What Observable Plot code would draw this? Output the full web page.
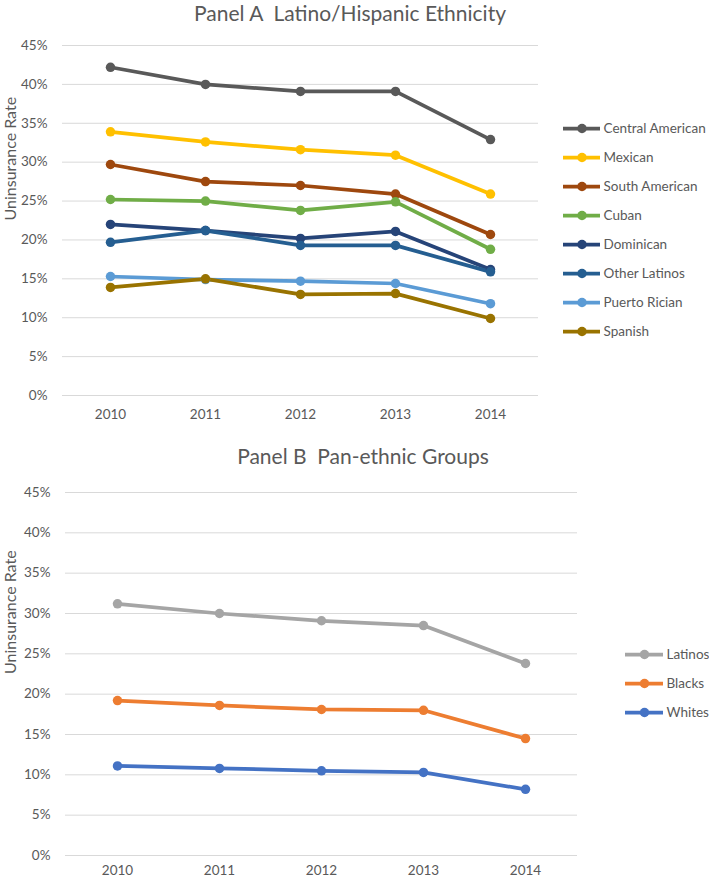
<!DOCTYPE html>
<html>
<head>
<meta charset="utf-8">
<script src="https://cdn.jsdelivr.net/npm/d3@7"></script>
<script src="https://cdn.jsdelivr.net/npm/@observablehq/plot@0.6"></script>
<style>
  html, body { margin: 0; padding: 0; background: #fff; }
  #root { position: relative; width: 709px; height: 880px; overflow: hidden; font-family: Lato, "Open Sans", sans-serif; color: #595959; }
  .title { position: absolute; width: 700px; text-align: center; font-size: 21px; line-height: 26px; white-space: pre; }
  .abs { position: absolute; }
  .abs svg { overflow: visible; }
</style>
</head>
<body>
<div id="root">
  <div class="title" id="titleA" style="left:0px; top:0px;">Panel A  Latino/Hispanic Ethnicity</div>
  <div class="title" id="titleB" style="left:13px; top:443px;">Panel B  Pan-ethnic Groups</div>
  <div class="abs" id="plotA" style="left:0px; top:0px;"></div>
  <div class="abs" id="legendA" style="left:555px; top:110px;"></div>
  <div class="abs" id="plotB" style="left:0px; top:440px;"></div>
  <div class="abs" id="legendB" style="left:617px; top:635px;"></div>
</div>
<script>
// ---- data ----
const years = ["2010", "2011", "2012", "2013", "2014"];
const yTicks = [0, 5, 10, 15, 20, 25, 30, 35, 40, 45];
const yLabel = "Uninsurance Rate";

const groupsA = ["Central American", "Mexican", "South American", "Cuban", "Dominican", "Other Latinos", "Puerto Rician", "Spanish"];
const colorsA = ["#595959", "#FFC000", "#9E480E", "#70AD47", "#264478", "#255E91", "#5B9BD5", "#997300"];
const centralAmerican = [42.2, 40.0, 39.1, 39.1, 32.9];
const mexican        = [33.9, 32.6, 31.6, 30.9, 25.9];
const southAmerican  = [29.7, 27.5, 27.0, 25.9, 20.7];
const cuban          = [25.2, 25.0, 23.8, 24.9, 18.8];
const dominican      = [22.0, 21.2, 20.2, 21.1, 16.2];
const otherLatinos   = [19.7, 21.2, 19.3, 19.3, 15.9];
const puertoRician   = [15.3, 14.9, 14.7, 14.4, 11.8];
const spanish        = [13.9, 15.0, 13.0, 13.1, 9.9];

const groupsB = ["Latinos", "Blacks", "Whites"];
const colorsB = ["#A5A5A5", "#ED7D31", "#4472C4"];
const latinos = [31.2, 30.0, 29.1, 28.5, 23.8];
const blacks  = [19.2, 18.6, 18.1, 18.0, 14.5];
const whites  = [11.1, 10.8, 10.5, 10.3, 8.2];

// ---- build tables ----
function toRows(groups, series) {
  const rows = [];
  groups.forEach((g, i) => series[i].forEach((v, j) => rows.push({group: g, year: years[j], value: v})));
  return rows;
}
const rowsA = toRows(groupsA, [centralAmerican, mexican, southAmerican, cuban, dominican, otherLatinos, puertoRician, spanish]);
const rowsB = toRows(groupsB, [latinos, blacks, whites]);

const baseStyle = {fontFamily: "Lato, 'Open Sans', sans-serif", fontSize: "13px", color: "#595959", background: "transparent", overflow: "visible"};

function panel(rows, groups, colors, opts) {
  return Plot.plot({
    width: opts.width, height: opts.height,
    marginTop: opts.mt, marginBottom: opts.mb, marginLeft: opts.ml, marginRight: opts.mr,
    style: baseStyle,
    x: {type: "point", domain: years, padding: 0.5},
    y: {domain: [0, 45]},
    color: {domain: groups, range: colors},
    marks: [
      Plot.gridY(yTicks, {stroke: "#d9d9d9", strokeOpacity: 1, strokeWidth: 1}),
      Plot.axisY(yTicks, {tickSize: 0, tickPadding: 15, tickFormat: d => d + "%", label: null, fontSize: 13.5}),
      Plot.axisX({tickSize: 0, tickPadding: opts.xPad, label: null, fontSize: 13.5}),
      Plot.text([yLabel], {text: d => d, frameAnchor: "left", rotate: -90, dx: opts.labelDx, fontSize: 16, fill: "#595959"}),
      Plot.line(rows, {x: "year", y: "value", z: "group", stroke: "group", strokeWidth: 3.75, strokeLinejoin: "round"}),
      Plot.dot(rows, {x: "year", y: "value", fill: "group", r: 4.75})
    ]
  });
}

function legend(groups, colors, opts) {
  return Plot.plot({
    width: opts.width, height: opts.height,
    marginTop: opts.mt, marginBottom: opts.mb, marginLeft: opts.ml, marginRight: opts.mr,
    style: baseStyle,
    x: {domain: [0, 1], axis: null},
    y: {type: "point", domain: groups, axis: null, padding: 0},
    color: {domain: groups, range: colors},
    marks: [
      Plot.ruleY(groups, {y: d => d, x1: () => 0, x2: () => 1, stroke: d => d, strokeWidth: 3.75}),
      Plot.dot(groups, {x: () => 0.5, y: d => d, fill: d => d, r: 4.75}),
      Plot.text(groups, {x: () => 1, y: d => d, text: d => d, textAnchor: "start", dx: 3, fontSize: 13.5, fill: "#595959"})
    ]
  });
}

document.getElementById("plotA").append(panel(rowsA, groupsA, colorsA, {width: 560, height: 430, mt: 45, mb: 35, ml: 62, mr: 22, labelDx: -52, xPad: 14}));
document.getElementById("plotB").append(panel(rowsB, groupsB, colorsB, {width: 600, height: 440, mt: 52, mb: 25, ml: 65, mr: 23, labelDx: -55, xPad: 10}));
document.getElementById("legendA").append(legend(groupsA, colorsA, {width: 154, height: 240, mt: 18, mb: 19, ml: 8, mr: 109}));
document.getElementById("legendB").append(legend(groupsB, colorsB, {width: 92, height: 95, mt: 18, mb: 18, ml: 8, mr: 46}));
</script>
</body>
</html>
